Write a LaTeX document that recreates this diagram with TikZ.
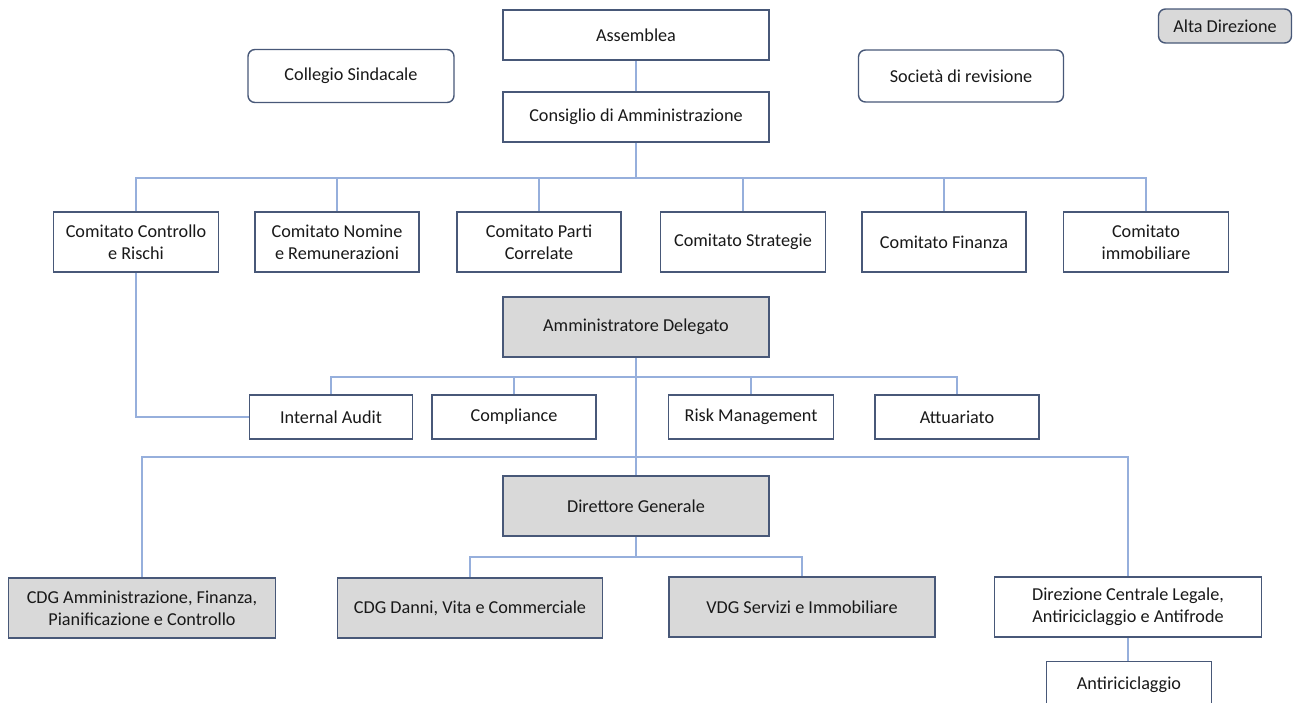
\documentclass[tikz,border=0pt]{standalone}
\usepackage{fontspec}
\setmainfont{Carlito}
\definecolor{boxline}{RGB}{72,88,120}
\definecolor{linkline}{RGB}{150,175,220}
\definecolor{boxgray}{RGB}{217,217,217}
\definecolor{txt}{RGB}{25,25,25}
\tikzset{
  unit/.style={draw=boxline, line width=1.4pt, fill=white, text=txt,
    align=center, inner sep=2pt,
    font=\fontsize{18.2}{21.6}\selectfont},
  grayunit/.style={unit, fill=boxgray},
  roundunit/.style={unit, rounded corners=7pt},
  link/.style={draw=linkline, line width=1.1pt}
}
\newcommand{\unitbox}[6]{%
  \node[#1, minimum width=#4pt, minimum height=#5pt] (#2) at #3 {#6};}
\begin{document}
\begin{tikzpicture}[x=1pt,y=-1pt]
\useasboundingbox (0,0) rectangle (1295,702);
\clip (0,0) rectangle (1295,702);

% bus junctions on the central axis
\coordinate (busA) at (636,178);
\coordinate (busB) at (636,377);
\coordinate (busC) at (636,457);
\coordinate (busD) at (636,557);

% connectors first, boxes drawn on top
\begin{scope}[link]
  \draw (636,35) -- (636,117);
  \draw (636,117) -- (busA);
  \foreach \cx in {136,337,539,743,944,1146}
    \draw (\cx,242) |- (busA);
  \draw (136,242) |- (331,417);
  \draw (636,327) -- (636,506);
  \foreach \cx in {331,514,751,957}
    \draw (\cx,417) |- (busB);
  \draw (142,608) |- (busC);
  \draw (1128,607) |- (busC);
  \draw (636,506) -- (busD);
  \draw (470,608) |- (busD);
  \draw (802,607) |- (busD);
  \draw (1128,607) -- (1128,686);
\end{scope}

% governing bodies
\unitbox{unit}{ass}{(636,35)}{266}{50}{Assemblea}
\unitbox{unit}{cda}{(636,117)}{266}{50}{Consiglio di Amministrazione}
\unitbox{roundunit}{coll}{(351,76)}{206}{53}{Collegio Sindacale}
\unitbox{roundunit}{soc}{(961,76)}{205}{52}{Società di revisione}
\unitbox{roundunit,fill=boxgray}{alta}{(1225,26)}{133}{34}{Alta Direzione}

% board committees
\unitbox{unit}{com1}{(136,242)}{165}{60}{Comitato Controllo\\e Rischi}
\unitbox{unit}{com2}{(337,242)}{164}{60}{Comitato Nomine\\e Remunerazioni}
\unitbox{unit}{com3}{(539,242)}{164}{60}{Comitato Parti\\Correlate}
\unitbox{unit}{com4}{(743,242)}{165}{60}{Comitato Strategie}
\unitbox{unit}{com5}{(944,242)}{164}{60}{Comitato Finanza}
\unitbox{unit}{com6}{(1146,242)}{165}{60}{Comitato\\immobiliare}

% executive line
\unitbox{grayunit}{ad}{(636,327)}{266}{60}{Amministratore Delegato}
\unitbox{unit}{ia}{(331,417)}{163}{44}{Internal Audit}
\unitbox{unit}{comp}{(514,417)}{164}{44}{Compliance}
\unitbox{unit}{risk}{(751,417)}{165}{44}{Risk Management}
\unitbox{unit}{att}{(957,417)}{164}{44}{Attuariato}

\unitbox{grayunit}{dg}{(636,506)}{266}{60}{Direttore Generale}
\unitbox{grayunit}{cdg1}{(142,608)}{267}{60}{CDG Amministrazione, Finanza,\\Pianificazione e Controllo}
\unitbox{grayunit}{cdg2}{(470,608)}{265}{60}{CDG Danni, Vita e Commerciale}
\unitbox{grayunit}{vdg}{(802,607)}{266}{60}{VDG Servizi e Immobiliare}
\unitbox{unit}{dcl}{(1128,607)}{267}{60}{Direzione Centrale Legale,\\Antiriciclaggio e Antifrode}
% last box runs past the lower edge; its label sits near the top
\node[unit, minimum width=165pt, anchor=north,
      text height=26pt, text depth=21pt] (anti) at (1129,661) {Antiriciclaggio};
\end{tikzpicture}
\end{document}
